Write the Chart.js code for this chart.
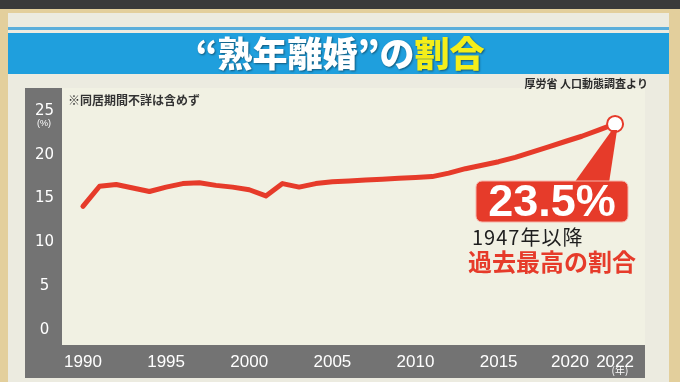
<!DOCTYPE html>
<html>
<head>
<meta charset="utf-8">
<script src="https://cdn.jsdelivr.net/npm/chart.js@4.4.1/dist/chart.umd.min.js"></script>
<style>
  html, body { margin: 0; padding: 0; background: #e3cf9c; }
  #myChart { display: block; }
</style>
</head>
<body>
<canvas id="myChart" width="680" height="382"></canvas>
<script>
// data (percent of divorces after 20+ years together)
const years = [1990, 1991, 1992, 1993, 1994, 1995, 1996, 1997, 1998, 1999,
               2000, 2001, 2002, 2003, 2004, 2005, 2006, 2007, 2008, 2009,
               2010, 2011, 2012, 2013, 2014, 2015, 2016, 2017, 2018, 2019,
               2020, 2021, 2022];
const rates = [14.1, 16.4, 16.6, 16.2, 15.8, 16.3, 16.7, 16.8, 16.5, 16.3,
               16.0, 15.3, 16.7, 16.3, 16.7, 16.9, 17.0, 17.1, 17.2, 17.3,
               17.4, 17.5, 17.9, 18.4, 18.8, 19.2, 19.7, 20.3, 20.9, 21.5,
               22.1, 22.8, 23.5];
const xTicks = [1990, 1995, 2000, 2005, 2010, 2015, 2020, 2022];
const yTicks = [0, 5, 10, 15, 20, 25];

const titleMain = '“熟年離婚”の';
const titleHi = '割合';
const sourceText = '厚労省 人口動態調査より';
const noteText = '※同居期間不詳は含めず';
const peakText = '23.5%';
const subText1 = '1947年以降';
const subText2 = '過去最高の割合';

const RED = '#e63b2a';
const JP = '"Noto Sans CJK JP", "Noto Sans", sans-serif';

// board, title band and grey axis bands
const board = {
    id: 'board',
    beforeDraw(chart) {
        const c = chart.ctx;
        const a = chart.chartArea;
        c.save();
        c.fillStyle = '#e3cf9c';
        c.fillRect(0, 0, 680, 382);
        c.fillStyle = '#3a3a3a';
        c.fillRect(0, 0, 680, 9);
        c.fillStyle = '#ecebe0';
        c.fillRect(8, 13, 661, 369);
        // title band
        c.fillStyle = '#5aaedb';
        c.fillRect(8, 27, 661, 3);
        c.fillStyle = '#1f9fdd';
        c.fillRect(8, 33, 661, 41);
        // plot panel
        c.fillStyle = '#f1f1e3';
        c.fillRect(a.left, 88, a.right - a.left, a.bottom - 88);
        // grey bands
        c.fillStyle = '#737373';
        c.fillRect(25, 88, a.left - 25, 290);
        c.fillRect(25, a.bottom, a.right - 25, 33);
        c.restore();
    },
    afterDraw(chart) {
        const c = chart.ctx;
        c.save();
        // title
        c.font = '900 35px ' + JP;
        c.textBaseline = 'middle';
        const w1 = c.measureText(titleMain).width;
        const w2 = c.measureText(titleHi).width;
        let tx = 340 - (w1 + w2) / 2;
        c.shadowColor = 'rgba(0,0,0,0.45)';
        c.shadowBlur = 2;
        c.shadowOffsetX = 1;
        c.shadowOffsetY = 1;
        c.fillStyle = '#ffffff';
        c.fillText(titleMain, tx, 54);
        c.fillStyle = '#f4ee1a';
        c.fillText(titleHi, tx + w1, 54);
        c.shadowColor = 'transparent';

        c.fillStyle = '#2a2a2a';
        c.font = 'bold 11px ' + JP;
        c.textAlign = 'right';
        c.fillText(sourceText, 648, 84);
        c.textAlign = 'left';
        c.font = 'bold 12px ' + JP;
        c.fillStyle = '#333333';
        c.fillText(noteText, 68, 100);

        // units
        c.fillStyle = '#ffffff';
        c.font = '9px "Liberation Sans", sans-serif';
        c.textAlign = 'center';
        c.fillText('(%)', 44, 124);
        c.font = '10px ' + JP;
        c.fillText('(年)', 620, 370);

        // callout from last point
        const meta = chart.getDatasetMeta(0);
        const pt = meta.data[meta.data.length - 1];
        const bx = 476, by = 181, bw = 152, bh = 41;
        c.fillStyle = RED;
        c.beginPath();
        c.moveTo(pt.x - 3, pt.y + 6);
        c.lineTo(pt.x + 2, pt.y + 6);
        c.lineTo(bx + 133, by + 2);
        c.lineTo(bx + 98, by + 2);
        c.closePath();
        c.fill();
        c.beginPath();
        c.roundRect(bx, by, bw, bh, 6);
        c.fill();
        c.strokeStyle = '#f6b3a8';
        c.lineWidth = 1;
        c.stroke();
        c.fillStyle = '#ffffff';
        c.font = 'bold 45px "Liberation Sans", Arial, sans-serif';
        c.textAlign = 'center';
        c.fillText(peakText, bx + bw / 2, by + bh / 2 + 2);

        c.textAlign = 'left';
        c.fillStyle = '#1e1e1e';
        c.font = '20px ' + JP;
        c.letterSpacing = '1px';
        c.fillText(subText1, 472, 237);
        c.letterSpacing = '0px';
        c.fillStyle = RED;
        c.font = 'bold 24px ' + JP;
        c.fillText(subText2, 468, 262);
        c.restore();
    }
};

const config = {
    type: 'line',
    data: {
        datasets: [{
            data: years.map((yr, i) => ({x: yr, y: rates[i]})),
            borderColor: RED,
            borderWidth: 5,
            borderJoinStyle: 'round',
            borderCapStyle: 'round',
            pointRadius: years.map((yr, i) => i === years.length - 1 ? 8 : 0),
            pointBackgroundColor: '#ffffff',
            pointBorderColor: RED,
            pointBorderWidth: 2,
            fill: false,
            tension: 0,
        }]
    },
    options: {
        responsive: false,
        animation: false,
        events: [],
        plugins: {
            legend: { display: false },
            tooltip: { enabled: false },
        },
        layout: {
            padding: { left: 25, right: 35, top: 88, bottom: 10 }
        },
        scales: {
            x: {
                type: 'linear',
                min: 1988.74,
                max: 2023.8,
                afterBuildTicks: s => { s.ticks = xTicks.map(v => ({value: v})); },
                afterFit: s => { s.height = 27; },
                grid: { display: false },
                border: { display: false },
                ticks: {
                    color: '#ffffff',
                    padding: -1,
                    maxRotation: 0,
                    autoSkip: false,
                    // trailing spaces nudge 2020 left so it clears 2022
                    callback: v => v === 2020 ? '2020     ' : String(v),
                    font: { family: '"Liberation Sans Narrow", "Liberation Sans", sans-serif', size: 17 },
                }
            },
            y: {
                min: -1.7,
                max: 27.6,
                afterBuildTicks: s => { s.ticks = yTicks.map(v => ({value: v})); },
                afterFit: s => { s.width = 37; },
                grid: { display: false },
                border: { display: false },
                ticks: {
                    color: '#ffffff',
                    crossAlign: 'center',
                    padding: 0,
                    font: { family: '"DejaVu Sans", sans-serif', size: 15 },
                }
            }
        }
    },
    plugins: [board]
};

const ctx = document.querySelector('#myChart');
let myChart = new Chart(ctx, config);
</script>
</body>
</html>
